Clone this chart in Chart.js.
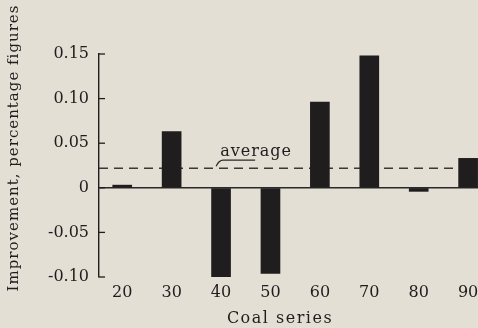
<!DOCTYPE html>
<html>
<head>
<meta charset="utf-8">
<title>Improvement by coal series</title>
<script src="https://cdn.jsdelivr.net/npm/chart.js@4.4.1/dist/chart.umd.min.js"></script>
<style>
    html, body { margin: 0; padding: 0; background: #e3dfd5; overflow: hidden; }
    #wrap { width: 478px; height: 328px; }
</style>
</head>
<body>
<div id="wrap"><canvas id="improvementChart" width="478" height="328"></canvas></div>
<script>
// Values
const coalSeries = [20, 30, 40, 50, 60, 70, 80, 90];
const improvement = [0.003, 0.063, -0.101, -0.096, 0.096, 0.148, -0.004, 0.033];
const averageImprovement = 0.022;
const yTickValues = [-0.10, -0.05, 0, 0.05, 0.10, 0.15];

const paper = '#e3dfd5';
const ink = '#1f1d1d';
const serif = "'DejaVu Serif', 'Liberation Serif', serif";

// Background of the page (scanned paper colour)
const paperBackground = {
    id: 'paperBackground',
    beforeDraw(chart) {
        const ctx = chart.ctx;
        ctx.save();
        ctx.fillStyle = paper;
        ctx.fillRect(0, 0, chart.width, chart.height);
        ctx.restore();
    }
};

// Typewriter-like text: serif with a little letter spacing
function typeText(ctx, text, x, y, size, spacing, rotate) {
    ctx.save();
    ctx.fillStyle = ink;
    ctx.font = size + 'px ' + serif;
    ctx.letterSpacing = spacing + 'px';
    ctx.textAlign = 'center';
    ctx.textBaseline = 'middle';
    ctx.translate(x, y);
    if (rotate) ctx.rotate(-Math.PI / 2);
    ctx.fillText(text, 0, 0);
    ctx.restore();
}

// Dashed average line, drawn under the bars, plus its label
const averageLine = {
    id: 'averageLine',
    beforeDatasetsDraw(chart) {
        const { ctx, chartArea, scales } = chart;
        const y = scales.y.getPixelForValue(averageImprovement);
        ctx.save();
        ctx.strokeStyle = '#3a3838';
        ctx.lineWidth = 1.4;
        ctx.setLineDash([9, 6]);
        ctx.beginPath();
        ctx.moveTo(chartArea.left, y);
        ctx.lineTo(chartArea.right, y);
        ctx.stroke();
        ctx.restore();
    },
    afterDatasetsDraw(chart) {
        const { ctx, scales } = chart;
        const y = scales.y.getPixelForValue(averageImprovement);
        // label sits above the line, between the 40 and 50 series
        const x = scales.x.getPixelForValue(39);
        ctx.save();
        ctx.strokeStyle = '#2a2828';
        ctx.lineWidth = 1.2;
        ctx.beginPath();
        ctx.moveTo(x, y - 2);
        ctx.quadraticCurveTo(x + 3, y - 8, x + 7, y - 8);
        ctx.lineTo(x + 39, y - 8);
        ctx.stroke();
        ctx.restore();
        typeText(ctx, 'average', x + 40, y - 16, 16, 1, false);
    }
};

// Tick marks pointing inward and the two axis titles
const axisDecor = {
    id: 'axisDecor',
    afterDraw(chart) {
        const { ctx, chartArea, scales } = chart;
        ctx.save();
        ctx.strokeStyle = ink;
        ctx.lineWidth = 1.3;
        scales.y.ticks.forEach(t => {
            const y = scales.y.getPixelForValue(t.value);
            ctx.beginPath();
            ctx.moveTo(chartArea.left, y);
            ctx.lineTo(chartArea.left + 6, y);
            ctx.stroke();
        });
        ctx.restore();
        typeText(ctx, 'Improvement, percentage figures', 14, 148, 15, 1, true);
        typeText(ctx, 'Coal series', 280, 319, 16, 1.5, false);
    }
};

const ctx = document.getElementById('improvementChart');
new Chart(ctx, {
    type: 'bar',
    data: {
        datasets: [{
            label: 'Improvement',
            data: coalSeries.map((s, i) => ({ x: s, y: improvement[i] })),
            backgroundColor: ink,
            borderWidth: 0,
            barThickness: 19
        }]
    },
    options: {
        responsive: false,
        animation: false,
        devicePixelRatio: 1,
        layout: { padding: { top: 54, right: 0, bottom: 0, left: 0 } },
        plugins: {
            legend: { display: false },
            tooltip: { enabled: false }
        },
        scales: {
            x: {
                type: 'linear',
                offset: false,
                min: 15.3,
                max: 92,
                afterBuildTicks: scale => { scale.ticks = coalSeries.map(v => ({ value: v })); },
                afterFit: scale => {
                    scale.height = 51;
                    // the last bar runs off the page edge in the original
                    scale.paddingLeft = 0;
                    scale.paddingRight = 0;
                },
                grid: { display: false, drawTicks: false },
                border: { display: false },
                ticks: {
                    padding: 6,
                    color: ink,
                    font: { family: serif, size: 16 },
                    maxRotation: 0,
                    callback: v => String(v)
                }
            },
            y: {
                min: -0.10,
                max: 0.15,
                afterBuildTicks: scale => { scale.ticks = yTickValues.map(v => ({ value: v })); },
                afterFit: scale => { scale.width = 99; },
                grid: {
                    drawTicks: false,
                    lineWidth: 1.4,
                    color: c => (c.tick && Math.abs(c.tick.value) < 1e-9) ? '#2a2828' : 'rgba(0,0,0,0)'
                },
                border: { display: true, color: ink, width: 1.4 },
                ticks: {
                    padding: 10,
                    color: ink,
                    font: { family: serif, size: 16 },
                    callback: v => Math.abs(v) < 1e-9 ? '0' : v.toFixed(2)
                }
            }
        }
    },
    plugins: [paperBackground, averageLine, axisDecor]
});
</script>
</body>
</html>
